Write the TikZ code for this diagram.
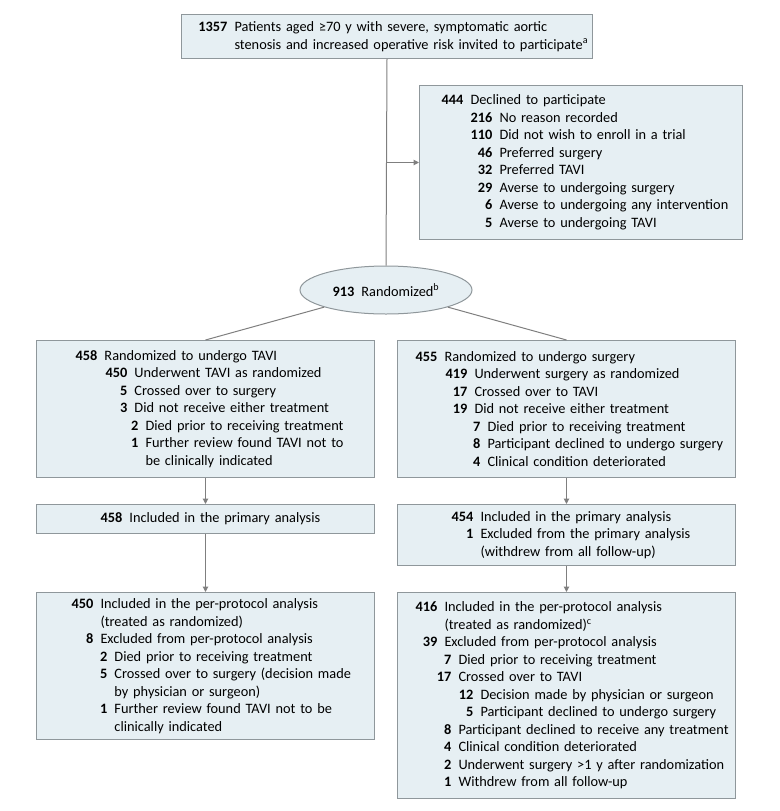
\documentclass[tikz,border=0pt]{standalone}
\usepackage{fontspec}
\setmainfont{Carlito}
\usetikzlibrary{shapes.geometric,arrows.meta}
\definecolor{boxfill}{HTML}{E6EFF3}
\definecolor{boxline}{HTML}{8F979B}
\definecolor{linkgray}{HTML}{7F7F7F}
\newdimen\pxu \pxu=0.75pt
\newcommand\ent[3]{\mbox{\makebox[#1\pxu][r]{\bfseries #2}\hspace{7\pxu}#3}}

\begin{document}
\begin{tikzpicture}[x=0.75pt,y=-0.75pt]
  \tikzstyle{every node}+=[inner sep=0pt,font=\fontsize{10.75}{13.125}\selectfont]
  \tikzstyle{box}=[draw=boxline,fill=boxfill,line width=0.75pt,anchor=north west,align=left,minimum width=338\pxu,text width=338\pxu]
  \tikzstyle{link}=[draw=linkgray,line width=0.75pt]
  \tikzstyle{flow}=[link,-{Triangle[length=4pt,width=4pt]}]
  \useasboundingbox (0,0) rectangle (780,811);
  \node[box,minimum width=411\pxu,text width=411\pxu,minimum height=44\pxu] (top) at (181,14) {\ent{46}{1357}{Patients aged ≥70 y with severe, symptomatic aortic}\\\ent{46}{}{stenosis and increased operative risk invited to participate\textsuperscript{a}}};
  \node[box,minimum width=323\pxu,text width=323\pxu,minimum height=154\pxu] (decl) at (419,85) {\ent{44}{444}{Declined to participate}\\
    \ent{73}{216}{No reason recorded}\\
    \ent{73}{110}{Did not wish to enroll in a trial}\\
    \ent{73}{46}{Preferred surgery}\\
    \ent{73}{32}{Preferred TAVI}\\
    \ent{73}{29}{Averse to undergoing surgery}\\
    \ent{73}{6}{Averse to undergoing any intervention}\\
    \ent{73}{5}{Averse to undergoing TAVI}};
  \node[ellipse,draw=boxline,fill=boxfill,line width=0.75pt,minimum width=172\pxu,minimum height=48\pxu] (rand) at (386,290) {\textbf{913}\hspace{7\pxu}Randomized\textsuperscript{b}};
  \node[box,minimum height=137\pxu] (tavi1) at (36,340) {\ent{61}{458}{Randomized to undergo TAVI}\\
    \ent{91}{450}{Underwent TAVI as randomized}\\
    \ent{91}{5}{Crossed over to surgery}\\
    \ent{91}{3}{Did not receive either treatment}\\
    \ent{102}{2}{Died prior to receiving treatment}\\
    \ent{102}{1}{Further review found TAVI not to}\\
    \ent{102}{}{be clinically indicated}};
  \node[box,minimum height=137\pxu] (surg1) at (397,340) {\ent{40}{455}{Randomized to undergo surgery}\\
    \ent{70}{419}{Underwent surgery as randomized}\\
    \ent{70}{17}{Crossed over to TAVI}\\
    \ent{70}{19}{Did not receive either treatment}\\
    \ent{83}{7}{Died prior to receiving treatment}\\
    \ent{83}{8}{Participant declined to undergo surgery}\\
    \ent{83}{4}{Clinical condition deteriorated}};
  \node[box,minimum height=29\pxu] (tavi2) at (36,504) {\ent{86}{458}{Included in the primary analysis}};
  \node[box,minimum height=61\pxu] (surg2) at (397,504) {\ent{76}{454}{Included in the primary analysis}\\
    \ent{76}{1}{Excluded from the primary analysis}\\
    \ent{76}{}{(withdrew from all follow-up)}};
  \node[box,minimum height=147\pxu] (tavi3) at (36,592) {\ent{57}{450}{Included in the per-protocol analysis}\\
    \ent{57}{}{(treated as randomized)}\\
    \ent{57}{8}{Excluded from per-protocol analysis}\\
    \ent{71}{2}{Died prior to receiving treatment}\\
    \ent{71}{5}{Crossed over to surgery (decision made}\\
    \ent{71}{}{by physician or surgeon)}\\
    \ent{71}{1}{Further review found TAVI not to be}\\
    \ent{71}{}{clinically indicated}};
  \node[box,minimum height=206\pxu] (surg3) at (397,592) {\ent{40}{416}{Included in the per-protocol analysis}\\
    \ent{40}{}{(treated as randomized)\textsuperscript{c}}\\
    \ent{40}{39}{Excluded from per-protocol analysis}\\
    \ent{54}{7}{Died prior to receiving treatment}\\
    \ent{54}{17}{Crossed over to TAVI}\\
    \ent{76}{12}{Decision made by physician or surgeon}\\
    \ent{76}{5}{Participant declined to undergo surgery}\\
    \ent{54}{8}{Participant declined to receive any treatment}\\
    \ent{54}{4}{Clinical condition deteriorated}\\
    \ent{54}{2}{Underwent surgery >1 y after randomization}\\
    \ent{54}{1}{Withdrew from all follow-up}};
  \coordinate (split) at (top.south |- decl.west);
  \draw[link] (top.south) -- (rand.north);
  \draw[flow] (split) -- (decl.west);
  \draw[link] (rand) -- (tavi1.north);
  \draw[link] (rand) -- (surg1.north);
  \draw[flow] (tavi1.south) -- (tavi2.north);
  \draw[flow] (surg1.south) -- (surg2.north);
  \draw[flow] (tavi2.south) -- (tavi3.north);
  \draw[flow] (surg2.south) -- (surg3.north);
\end{tikzpicture}
\end{document}
